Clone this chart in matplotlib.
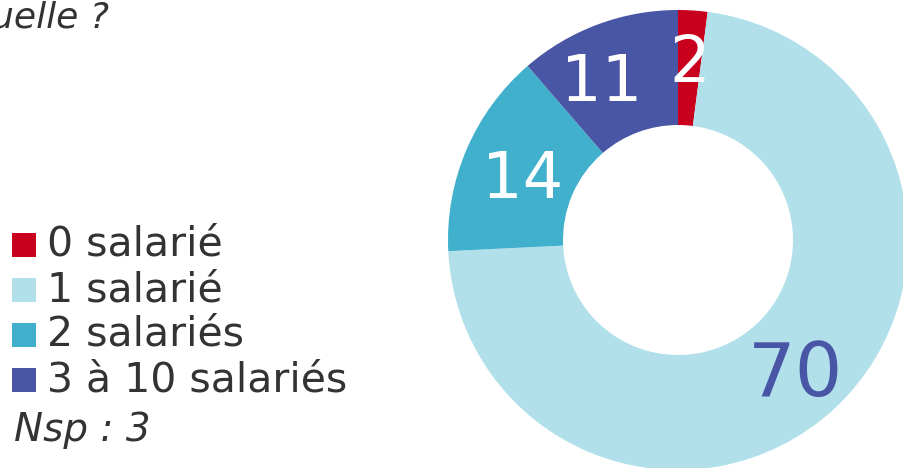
import numpy as np
import matplotlib
matplotlib.use("Agg")
import matplotlib.pyplot as plt
from matplotlib.patches import Rectangle

# Répartition des entreprises selon le nombre de salariés
categories = ["0 salarié", "1 salarié", "2 salariés", "3 à 10 salariés"]
values = [2, 70, 14, 11]
colors = ["#C8001E", "#B1E0EA", "#40B0CC", "#4955A5"]
label_colors = ["white", "#4955A5", "white", "white"]
label_sizes = [46, 54, 46, 46]
nsp_text = "Nsp : 3"
question_tail = "uelle ?"

W, H = 904, 468
fig = plt.figure(figsize=(W / 100, H / 100), dpi=100)
fig.patch.set_facecolor("white")

# Donut: centre (678, 240) px, outer radius 230 px
cx, cy, R = 678, 240, 230
ax = fig.add_axes([(cx - R) / W, (H - cy - R) / H, 2 * R / W, 2 * R / H])
wedges, _ = ax.pie(values, colors=colors, startangle=90, counterclock=False,
                   radius=1, wedgeprops=dict(width=0.5, linewidth=0))
ax.set_xlim(-1, 1)
ax.set_ylim(-1, 1)
ax.set_aspect("equal")
ax.axis("off")

label_r = [0.78, 0.77, 0.73, 0.77]
angle_nudge = [0, -1, 1, 5]
for w, v, c, s, r, dn in zip(wedges, values, label_colors, label_sizes, label_r, angle_nudge):
    ang = np.deg2rad((w.theta1 + w.theta2) / 2 + dn)
    ax.text(r * np.cos(ang), r * np.sin(ang) - 0.015, str(v), color=c, fontsize=s,
            ha="center", va="center", family="DejaVu Sans")

# Legend drawn in pixel coordinates
text_color = "#333333"
row_y = [245, 290, 335, 380]
for y, col, lab in zip(row_y, colors, categories):
    fig.patches.append(Rectangle(((12) / W, (H - y - 12) / H), 24 / W, 24 / H,
                                 transform=fig.transFigure, facecolor=col,
                                 edgecolor="none"))
    fig.text(47 / W, (H - y) / H, lab, fontsize=29.5, color=text_color,
             ha="left", va="center", family="DejaVu Sans")

fig.text(14 / W, (H - 430) / H, nsp_text, fontsize=28, color=text_color,
         ha="left", va="center", style="italic", family="DejaVu Sans")

fig.text(-9 / W, (H - 27) / H, question_tail, fontsize=26, color=text_color,
         ha="left", va="baseline", style="italic", family="DejaVu Sans")

fig.savefig("out.png", dpi=100, facecolor="white")
